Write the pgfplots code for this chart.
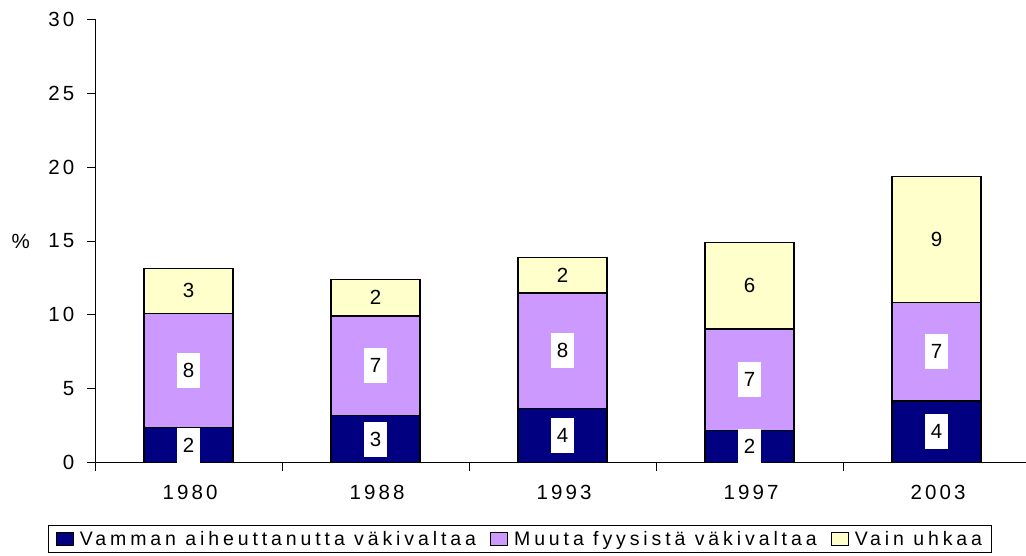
\documentclass[border=0pt]{standalone}
\usepackage{pgfplots}
\pgfplotsset{compat=1.18}
\usepackage{fontspec}
\setmainfont{Liberation Sans}
\newfontfamily\spaced[LetterSpace=15]{Liberation Sans}
\newfontfamily\legspaced[LetterSpace=20]{Liberation Sans}
\definecolor{cdark}{HTML}{000080}
\definecolor{cpurple}{HTML}{CC99FF}
\definecolor{cyellow}{HTML}{FFFFCC}
\pgfplotsset{
  base/.style={
    scale only axis, width=930.7bp, height=443.4bp,
    at={(95bp,93.3bp)}, anchor=south west,
    xmin=-0.5, xmax=4.477, ymin=0, ymax=30,
  },
  lbl/.style={draw=none, mark=none, nodes near coords, point meta=explicit symbolic,
    every node near coord/.append style={anchor=center, inner sep=0bp,
      minimum width=23bp, minimum height=35bp, text=black,
      font=\fontsize{20.5bp}{22bp}\selectfont}},
}
\pgfplotstableread{
x d p y
0 2.36 7.75 3.04
1 3.17 6.76 2.46
2 3.69 7.79 2.39
3 2.18 6.86 5.88
4 4.18 6.68 8.49
}\datatab
\begin{document}
\begin{tikzpicture}
\useasboundingbox (0,0) rectangle (1026bp,556bp);
\begin{axis}[base, ybar stacked, bar width=89bp,
  axis lines=left, axis line style={-, line width=0.9bp},
  tick align=outside, major tick length=8bp, minor tick length=8bp,
  every tick/.append style={black, line width=0.9bp},
  ytick={0,5,...,30},
  xtick={0,1,2,3,4}, xticklabels={1980,1988,1993,1997,2003},
  major x tick style={draw=none},
  minor xtick={-0.5,0.5,1.5,2.5,3.5},
  /pgf/number format/assume math mode=true,
  tick label style={font=\fontsize{20.5bp}{22bp}\spaced},
  yticklabel style={anchor=east, inner sep=0bp, xshift=-12.5bp},
  xticklabel style={anchor=north, inner sep=0bp, yshift=-14bp, xshift=1.5bp},
  ylabel={\%},
  every axis y label/.style={at={(axis description cs:0,0.5)}, anchor=east, inner sep=0bp, xshift=-65bp, font=\fontsize{20.5bp}{22bp}\selectfont},
  legend style={at={(axis description cs:0.4566,-0.172)}, anchor=center,
    legend columns=3, draw=black, line width=0.9bp,
    font=\fontsize{19.5bp}{21bp}\legspaced, inner xsep=7bp, inner ysep=4bp,
    /tikz/every even column/.append style={column sep=12bp}},
  legend image code/.code={\draw[#1, draw=black, line width=1bp] (0bp,-6.5bp) rectangle (17bp,6.5bp); \path (21bp,0bp);},
]
\addplot[fill=cdark, draw=black, line width=1.2bp] table[x=x, y=d]{\datatab};
\addplot[fill=cpurple, draw=black, line width=1.2bp] table[x=x, y=p]{\datatab};
\addplot[fill=cyellow, draw=black, line width=1.2bp] table[x=x, y=y]{\datatab};
\legend{Vamman aiheuttanutta väkivaltaa, Muuta fyysistä väkivaltaa, Vain uhkaa}
\end{axis}
\begin{axis}[base, hide axis, clip=false]
\addplot[lbl, every node near coord/.append style={fill=white}] table[meta=l]{
x y l
0 1.18 2
1 1.585 3
2 1.845 4
3 1.09 2
4 2.09 4
0 6.235 8
1 6.55 7
2 7.585 8
3 5.61 7
4 7.52 7
};
\addplot[lbl] table[meta=l]{
x y l
0 11.63 3
1 11.16 2
2 12.675 2
3 11.98 6
4 15.1 9
};
\end{axis}
\end{tikzpicture}
\end{document}
